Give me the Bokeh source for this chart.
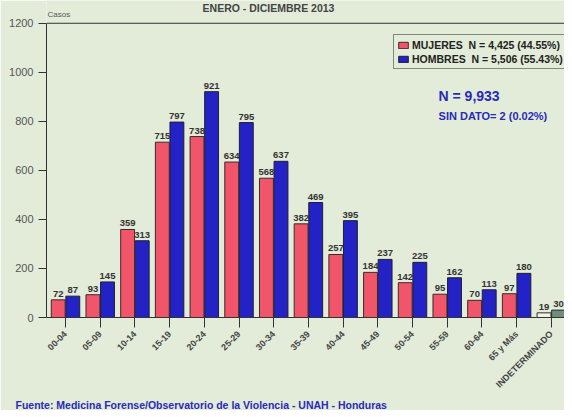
import math
from bokeh.plotting import figure
from bokeh.models import ColumnDataSource, FixedTicker, Span, Label, Legend, LegendItem, Title
from bokeh.core.properties import value
from bokeh.embed import file_html
from bokeh.resources import INLINE

categories = ["00-04", "05-09", "10-14", "15-19", "20-24", "25-29", "30-34", "35-39",
              "40-44", "45-49", "50-54", "55-59", "60-64", "65 y Más", "INDETERMINADO"]
mujeres = [72, 93, 359, 715, 738, 634, 568, 382, 257, 184, 142, 95, 70, 97, 19]
hombres = [87, 145, 313, 797, 921, 795, 637, 469, 395, 237, 225, 162, 113, 180, 30]
y_ticks = [0, 200, 400, 600, 800, 1000, 1200]

FONT = "Liberation Sans"
BG = "#e3ecd9"
RED = "#f05569"
BLUE = "#2222c6"
TXT = "#333333"
ANN = "#2a2ab8"

n = len(categories)
xs = list(range(n))
red_colors = [RED] * (n - 1) + ["#eef2e8"]
blue_colors = [BLUE] * (n - 1) + ["#6f8f7c"]

src_m = ColumnDataSource(dict(x=[i - 0.21 for i in xs], top=mujeres, lab=[str(v) for v in mujeres], c=red_colors))
src_h = ColumnDataSource(dict(x=[i + 0.21 for i in xs], top=hombres, lab=[str(v) for v in hombres], c=blue_colors))

# frame: top of figure down to ~320px; 1200 sits 23px below the top
p = figure(width=564, height=410, output_backend="svg", toolbar_location=None,
           x_range=(-0.548, 14.38), y_range=(0, 1292.9),
           min_border_left=46, min_border_right=0, min_border_top=0, min_border_bottom=90)
p.background_fill_color = BG
p.border_fill_color = BG
p.outline_line_color = None
p.grid.visible = False

rm = p.vbar(x="x", top="top", width=0.4, source=src_m, fill_color="c", line_color="#3a2a2a", line_width=1)
rh = p.vbar(x="x", top="top", width=0.4, source=src_h, fill_color="c", line_color="#20202a", line_width=1)

for s in (src_m, src_h):
    p.text(x="x", y="top", text="lab", source=s, text_align="center", text_baseline="bottom",
           y_offset=-3, text_font=value(FONT), text_font_style="bold", text_font_size="9.5px",
           text_color=TXT)

p.add_layout(Span(location=1200, dimension="width", line_color="#333333", line_width=1))

# axes
p.xaxis.ticker = FixedTicker(ticks=xs)
p.xaxis.major_label_overrides = {i: c for i, c in enumerate(categories)}
p.xaxis.major_label_orientation = math.pi / 4
p.xaxis.major_label_text_font = FONT
p.xaxis.major_label_text_font_style = "bold"
p.xaxis.major_label_text_font_size = "9px"
p.xaxis.major_label_text_color = "#444444"
p.xaxis.major_tick_out = 10
p.xaxis.major_tick_in = 0
p.xaxis.minor_tick_out = 0
p.xaxis.axis_line_color = "#333333"
p.xaxis.major_tick_line_color = "#333333"
p.xaxis.major_label_standoff = 5

p.yaxis.ticker = FixedTicker(ticks=y_ticks)
p.yaxis.bounds = (0, 1200)
p.yaxis.major_label_text_font = FONT
p.yaxis.major_label_text_font_size = "11px"
p.yaxis.major_label_text_color = "#555555"
p.yaxis.major_tick_out = 8
p.yaxis.major_tick_in = 0
p.yaxis.minor_tick_out = 0
p.yaxis.minor_tick_in = 0
p.yaxis.axis_line_color = "#333333"
p.yaxis.major_tick_line_color = "#333333"
p.yaxis.major_label_standoff = 5

# legend
legend = Legend(items=[
    LegendItem(label="MUJERES\u00a0\u00a0N = 4,425 (44.55%)", renderers=[rm]),
    LegendItem(label="HOMBRES\u00a0\u00a0N = 5,506 (55.43%)", renderers=[rh]),
], location=(347, 248))
legend.margin = 0
legend.padding = 3
legend.spacing = 1
legend.label_height = 13
legend.glyph_height = 8
legend.glyph_width = 12
legend.label_standoff = 3
legend.label_text_font = FONT
legend.label_text_font_style = "bold"
legend.label_text_font_size = "10.5px"
legend.label_text_color = "#222222"
legend.border_line_color = "#222222"
legend.border_line_width = 1
legend.background_fill_alpha = 0
p.add_layout(legend)

# annotations (inside the frame)
p.add_layout(Label(x=10.75, y=937, text="N = 9,933", text_font=FONT, text_font_style="bold",
                   text_font_size="14px", text_color=ANN, text_baseline="top"))
p.add_layout(Label(x=10.75, y=845, text="SIN DATO= 2 (0.02%)", text_font=FONT, text_font_style="bold",
                   text_font_size="11px", text_color=ANN, text_baseline="top"))
p.add_layout(Label(x=5.85, y=1261, text="ENERO - DICIEMBRE 2013", text_font=FONT, text_font_style="bold",
                   text_font_size="10.5px", text_color="#444444", text_align="center", text_baseline="middle"))
p.add_layout(Label(x=-0.52, y=1236, text="Casos", text_font=FONT,
                   text_font_size="8px", text_color="#555555", text_align="left", text_baseline="middle"))

p.add_layout(Title(text="Fuente: Medicina Forense/Observatorio de la Violencia - UNAH - Honduras",
                   align="left", offset=-31, standoff=0, text_font=FONT, text_font_style="bold",
                   text_font_size="10.5px", text_color=ANN), "below")

open("out.html", "w").write(file_html(p, INLINE))
